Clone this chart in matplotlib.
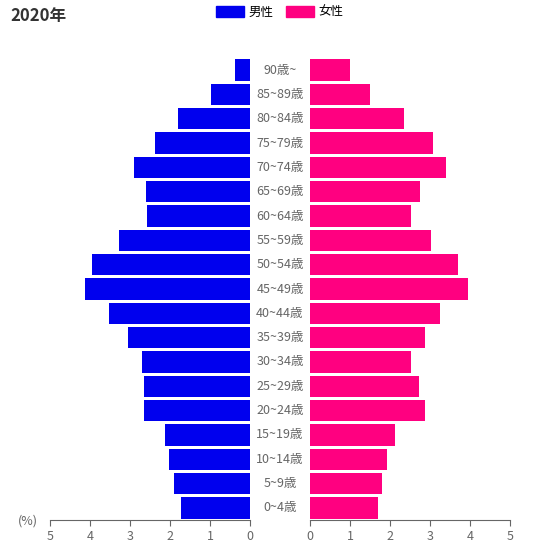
import matplotlib
matplotlib.use("Agg")
import matplotlib.pyplot as plt
from matplotlib.patches import Patch

plt.rcParams['font.family'] = ['Noto Sans CJK JP', 'DejaVu Sans']

ages = ["0~4歳","5~9歳","10~14歳","15~19歳","20~24歳","25~29歳","30~34歳","35~39歳",
        "40~44歳","45~49歳","50~54歳","55~59歳","60~64歳","65~69歳","70~74歳",
        "75~79歳","80~84歳","85~89歳","90歳~"]
male = [1.72,1.9,2.02,2.12,2.65,2.65,2.7,3.05,3.52,4.12,3.95,3.27,2.57,2.6,2.9,2.37,1.8,0.97,0.37]
female = [1.7,1.8,1.92,2.12,2.87,2.72,2.52,2.87,3.25,3.95,3.7,3.02,2.52,2.75,3.4,3.07,2.35,1.5,1.0]
ticks = [0,1,2,3,4,5]

W,H = 550,545
fig = plt.figure(figsize=(W/100,H/100), dpi=100)
bot, top = 1-520/H, 1-58/H
axL = fig.add_axes([50/W, bot, 200/W, top-bot])
axR = fig.add_axes([310/W, bot, 200/W, top-bot])
y = list(range(len(ages)))
axL.barh(y, male, height=0.88, color='#0000ee')
axR.barh(y, female, height=0.88, color='#ff0080')
axL.set_xlim(5,0); axR.set_xlim(0,5)
for ax in (axL, axR):
    ax.set_ylim(-0.5, len(ages)-0.5)
    ax.set_yticks([])
    ax.set_xticks(ticks)
    ax.set_xticklabels([str(t) for t in ticks])
    ax.tick_params(axis='x', colors='#666666', labelsize=9, length=4)
    for s in ('top','left','right'):
        ax.spines[s].set_visible(False)
    ax.spines['bottom'].set_color('#666666')
for i,a in enumerate(ages):
    yy = bot + (i+0.5)/len(ages)*(top-bot)
    fig.text(280/W, yy, a, ha='center', va='center', fontsize=9, color='#666666')
fig.text(18/W, 1-521/H, "(%)", fontsize=9, color='#666666', va='center')
fig.text(10/W, 1-16/H, "2020年", fontsize=12, fontweight='bold', color='#333333', va='center')
fig.legend(handles=[Patch(color='#0000ee', label='男性'), Patch(color='#ff0080', label='女性')],
           loc='center', bbox_to_anchor=(280/W, 1-12/H), ncol=2, frameon=False,
           fontsize=9, handlelength=2.2, handleheight=1.0, columnspacing=1.0, handletextpad=0.4)
fig.savefig("out.png", dpi=100)
